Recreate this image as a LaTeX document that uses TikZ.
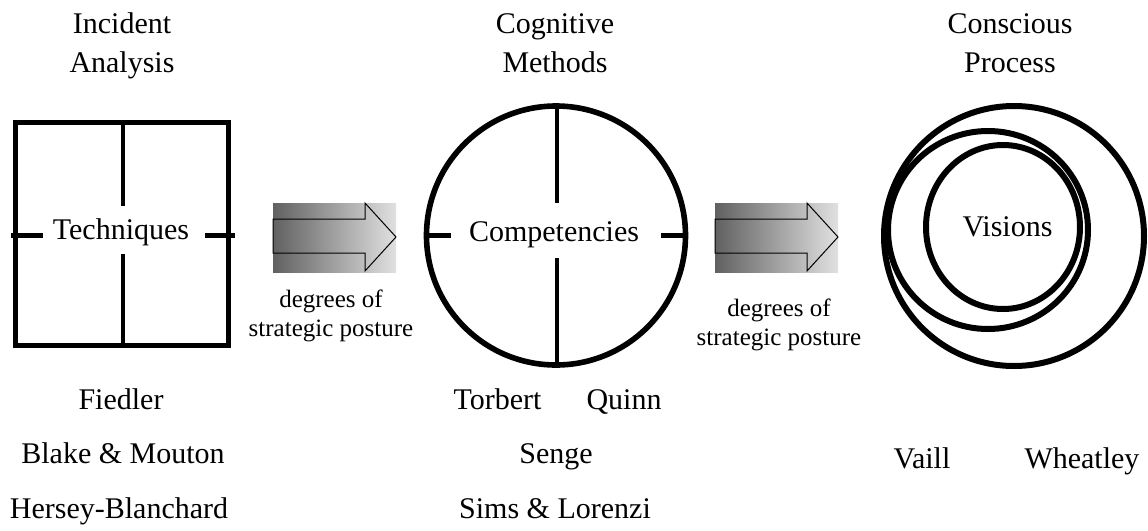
\documentclass[tikz,border=0pt]{standalone}
\usepackage{fontspec}
\setmainfont{Liberation Serif}
\begin{document}
\begin{tikzpicture}[x=0.5pt,y=-0.5pt,
  frame/.style={line width=2.5pt},
  stub/.style={line width=2.5pt},
  divider/.style={line width=2pt},
  ring/.style={line width=3pt},
  txt/.style={anchor=base, inner sep=0pt, font=\fontsize{15}{18}\selectfont},
  smalltxt/.style={anchor=base, inner sep=0pt, font=\fontsize{12.5}{15}\selectfont},
  blockarrow/.style={draw=black, line width=0.5pt, line join=miter},
  grad/.style={left color=black!62, right color=black!12}
]
\useasboundingbox (0,0) rectangle (1148,531);

% ---------- column titles ----------
\node[txt] (t1a) at (122,33) {Incident};
\node[txt] (t1b) at (122,72) {Analysis};
\node[txt] (t2a) at (555,33) {Cognitive};
\node[txt] (t2b) at (555,72) {Methods};
\node[txt] (t3a) at (1010,33) {Conscious};
\node[txt] (t3b) at (1010,72) {Process};

% ---------- square: techniques ----------
\draw[frame] (15,122) rectangle (228.5,345.5);
\draw[divider] (123,122) -- (123,206);
\draw[divider] (123,254) -- (123,345.5);
\draw[stub] (11,235) -- (43,235);
\draw[stub] (205,235) -- (235,235);
\node[txt] (tech) at (121,239) {Techniques};

% ---------- circle: competencies ----------
\draw[ring, line width=2.8pt] (556,235.5) circle[radius=129.5];
\draw[divider] (556.7,106) -- (556.7,203);
\draw[divider] (556.7,258) -- (556.7,365);
\draw[stub] (425,235) -- (451,235);
\draw[stub] (661,235) -- (688,235);
\node[txt] (comp) at (554,241.5) {Competencies};

% ---------- nested rings: visions ----------
\draw[ring] (1014,236) circle[radius=130];
\draw[ring] (988,230) ellipse[x radius=100, y radius=99];
\draw[ring] (1003,227) ellipse[x radius=77, y radius=82];
\node[txt] (vis) at (1007.5,236.5) {Visions};

% ---------- shaded block arrows ----------
\foreach \ox in {0,442} {
  \begin{scope}[shift={(\ox,0)}]
    \shade[grad] (273,203) rectangle (396,272);
    \draw[blockarrow] (273,219) -- (365,219) -- (365,203) -- (396,237)
      -- (365,271) -- (365,253) -- (273,253) -- cycle;
  \end{scope}
}
\node[smalltxt] (d1a) at (331,307) {degrees of};
\node[smalltxt] (d1b) at (331,336) {strategic posture};
\node[smalltxt] (d2a) at (779,316) {degrees of};
\node[smalltxt] (d2b) at (779,345) {strategic posture};

% ---------- authors ----------
\node[txt] (fied) at (121,409) {Fiedler};
\node[txt] (blake) at (123,463) {Blake \& Mouton};
\node[txt] (hers) at (119,518) {Hersey-Blanchard};

\node[txt] (torb) at (497.5,409) {Torbert};
\node[txt] (quinn) at (624,409) {Quinn};
\node[txt] (senge) at (556,463) {Senge};
\node[txt] (sims) at (555,518) {Sims \& Lorenzi};

\node[txt] (vaill) at (922,468) {Vaill};
\node[txt] (wheat) at (1082,468) {Wheatley};
\end{tikzpicture}
\end{document}
